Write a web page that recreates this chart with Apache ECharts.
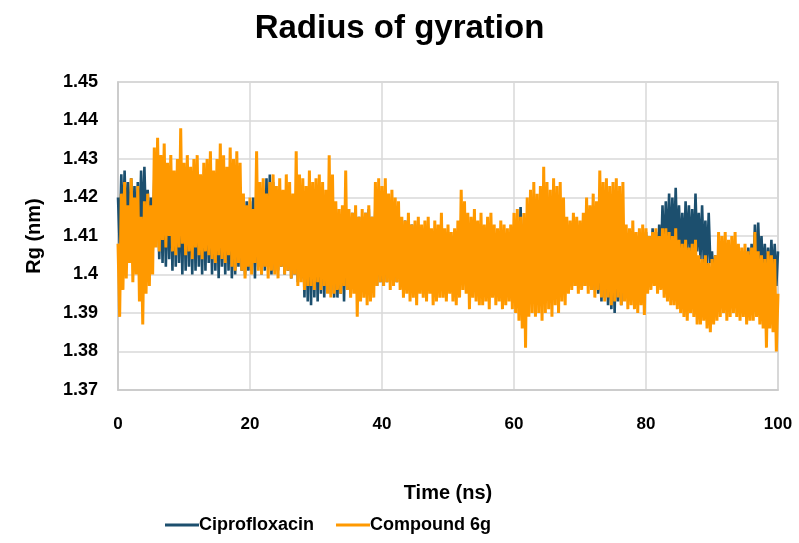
<!DOCTYPE html>
<html>
<head>
<meta charset="utf-8">
<script src="https://cdn.jsdelivr.net/npm/echarts@6/dist/echarts.min.js"></script>
<style>
html,body{margin:0;padding:0;background:#fff;}
#chart{width:799px;height:543px;}
</style>
</head>
<body>
<div id="chart"></div>
<script>
// Time step of the trajectories (ns) — samples every 0.25 ns from 0 to 100
const timeStep = 0.25;
const xTicks = [0, 20, 40, 60, 80, 100];
const yTicks = [1.37, 1.38, 1.39, 1.40, 1.41, 1.42, 1.43, 1.44, 1.45];
const seriesNames = ["Ciprofloxacin", "Compound 6g"];

// Rg (nm) of Ciprofloxacin (0.25 ns steps)
const ciprofloxacin = [
1.420,1.408,1.426,1.410, 1.427,1.411,1.424,1.409, 1.425,1.410,1.423,1.408, 1.424,1.409,1.427,1.410, 1.428,1.412,1.422,1.411,
1.420,1.405,1.425,1.409, 1.426,1.404,1.424,1.403, 1.425,1.402,1.423,1.404, 1.424,1.401,1.426,1.402, 1.425,1.403,1.422,1.400,
1.424,1.401,1.425,1.402, 1.423,1.400,1.424,1.401, 1.425,1.402,1.422,1.400, 1.424,1.401,1.423,1.403, 1.422,1.400,1.424,1.401,
1.423,1.399,1.425,1.402, 1.422,1.400,1.423,1.401, 1.424,1.399,1.421,1.400, 1.420,1.402,1.422,1.401, 1.418,1.400,1.419,1.401,
1.419,1.401,1.420,1.399, 1.421,1.402,1.420,1.400, 1.422,1.401,1.425,1.402, 1.426,1.400,1.424,1.401, 1.421,1.401,1.420,1.402,
1.420,1.400,1.421,1.401, 1.419,1.399,1.420,1.400, 1.421,1.398,1.420,1.399, 1.419,1.394,1.420,1.393, 1.418,1.392,1.419,1.394,
1.420,1.393,1.418,1.395, 1.419,1.394,1.417,1.396, 1.418,1.395,1.416,1.394, 1.417,1.394,1.415,1.395, 1.416,1.393,1.417,1.396,
1.415,1.395,1.416,1.397, 1.416,1.396,1.415,1.397, 1.415,1.398,1.416,1.397, 1.417,1.398,1.415,1.399, 1.418,1.397,1.417,1.398,
1.416,1.397,1.418,1.398, 1.417,1.399,1.416,1.398, 1.414,1.398,1.415,1.399, 1.413,1.397,1.414,1.398, 1.412,1.396,1.413,1.398,
1.413,1.397,1.412,1.396, 1.411,1.395,1.412,1.397, 1.412,1.396,1.411,1.395, 1.411,1.397,1.412,1.398, 1.412,1.396,1.410,1.397,
1.411,1.397,1.410,1.398, 1.410,1.395,1.411,1.396, 1.412,1.398,1.411,1.397, 1.411,1.397,1.412,1.398, 1.410,1.398,1.411,1.397,
1.411,1.397,1.410,1.398, 1.410,1.398,1.411,1.399, 1.409,1.397,1.410,1.398, 1.410,1.398,1.409,1.397, 1.411,1.397,1.410,1.398,
1.410,1.398,1.412,1.399, 1.4175,1.400,1.413,1.399, 1.412,1.399,1.411,1.398, 1.413,1.398,1.412,1.399, 1.414,1.399,1.413,1.398,
1.412,1.398,1.414,1.397, 1.413,1.397,1.412,1.398, 1.412,1.398,1.413,1.397, 1.411,1.398,1.412,1.399, 1.412,1.397,1.411,1.398,
1.411,1.398,1.412,1.397, 1.412,1.397,1.411,1.396, 1.411,1.396,1.412,1.395, 1.410,1.393,1.411,1.394, 1.412,1.392,1.410,1.391,
1.411,1.390,1.412,1.393, 1.410,1.392,1.411,1.394, 1.410,1.396,1.409,1.397, 1.411,1.397,1.410,1.396, 1.410,1.398,1.409,1.397,
1.411,1.399,1.410,1.398, 1.412,1.400,1.411,1.399, 1.413,1.402,1.418,1.404, 1.419,1.405,1.421,1.406, 1.420,1.407,1.4225,1.406,
1.418,1.405,1.416,1.404, 1.419,1.406,1.418,1.405, 1.417,1.404,1.421,1.406, 1.416,1.404,1.418,1.403, 1.414,1.402,1.416,1.403,
1.406,1.398,1.405,1.397, 1.406,1.398,1.405,1.399, 1.404,1.397,1.406,1.398, 1.405,1.398,1.404,1.397, 1.407,1.398,1.406,1.397,
1.406,1.397,1.407,1.398, 1.408,1.398,1.413,1.400, 1.4135,1.401,1.410,1.399, 1.408,1.398,1.407,1.397, 1.409,1.398,1.408,1.397,
1.406
];

// Rg (nm) of Compound 6g (0.25 ns steps)
const compound6g = [
1.408,1.389,1.421,1.396, 1.424,1.399,1.418,1.403, 1.425,1.398,1.420,1.400, 1.423,1.393,1.415,1.387, 1.419,1.395,1.421,1.397,
1.418,1.400,1.433,1.407, 1.4355,1.406,1.431,1.409, 1.434,1.407,1.429,1.410, 1.431,1.406,1.427,1.405, 1.430,1.407,1.438,1.408,
1.429,1.405,1.431,1.406, 1.428,1.404,1.430,1.407, 1.431,1.405,1.426,1.404, 1.429,1.406,1.430,1.405, 1.432,1.404,1.427,1.403,
1.430,1.405,1.434,1.404, 1.431,1.403,1.428,1.405, 1.433,1.402,1.430,1.401, 1.432,1.403,1.429,1.401, 1.421,1.399,1.418,1.402,
1.420,1.400,1.417,1.403, 1.432,1.401,1.424,1.400, 1.425,1.402,1.421,1.399, 1.424,1.401,1.426,1.400, 1.423,1.399,1.425,1.402,
1.422,1.400,1.426,1.401, 1.424,1.399,1.421,1.400, 1.432,1.397,1.426,1.398, 1.425,1.396,1.423,1.397, 1.427,1.397,1.424,1.396,
1.425,1.398,1.426,1.396, 1.424,1.397,1.422,1.395, 1.431,1.394,1.426,1.395, 1.419,1.396,1.417,1.395, 1.418,1.397,1.427,1.396,
1.417,1.394,1.416,1.395, 1.418,1.389,1.415,1.393, 1.417,1.394,1.416,1.392, 1.418,1.393,1.415,1.394, 1.424,1.397,1.425,1.398,
1.423,1.397,1.425,1.398, 1.421,1.396,1.422,1.397, 1.420,1.398,1.419,1.396, 1.415,1.394,1.414,1.395, 1.416,1.393,1.413,1.394,
1.414,1.392,1.415,1.395, 1.413,1.394,1.414,1.393, 1.415,1.395,1.412,1.392, 1.414,1.393,1.413,1.394, 1.416,1.394,1.412,1.393,
1.413,1.395,1.411,1.393, 1.412,1.392,1.414,1.394, 1.422,1.396,1.419,1.395, 1.416,1.391,1.415,1.394, 1.417,1.393,1.414,1.392,
1.416,1.392,1.413,1.393, 1.415,1.391,1.416,1.394, 1.413,1.392,1.412,1.393, 1.414,1.391,1.413,1.392, 1.412,1.393,1.413,1.391,
1.416,1.390,1.417,1.388, 1.415,1.386,1.416,1.381, 1.420,1.389,1.422,1.390, 1.424,1.389,1.421,1.390, 1.423,1.388,1.428,1.390,
1.424,1.391,1.422,1.389, 1.425,1.392,1.423,1.390, 1.424,1.393,1.420,1.392, 1.415,1.395,1.414,1.396, 1.416,1.397,1.415,1.395,
1.414,1.396,1.416,1.397, 1.420,1.395,1.418,1.396, 1.421,1.394,1.419,1.396, 1.427,1.394,1.424,1.393, 1.425,1.394,1.423,1.392,
1.424,1.393,1.425,1.394, 1.423,1.392,1.424,1.393, 1.413,1.391,1.412,1.392, 1.414,1.391,1.411,1.390, 1.412,1.392,1.413,1.3895,
1.412,1.395,1.410,1.396, 1.411,1.397,1.412,1.395, 1.410,1.396,1.412,1.394, 1.412,1.393,1.411,1.392, 1.410,1.392,1.412,1.391,
1.409,1.390,1.408,1.389, 1.409,1.388,1.407,1.390, 1.408,1.389,1.409,1.387, 1.405,1.387,1.404,1.388, 1.405,1.386,1.403,1.385,
1.404,1.387,1.405,1.388, 1.411,1.389,1.410,1.390, 1.411,1.388,1.409,1.389, 1.410,1.390,1.411,1.389, 1.408,1.388,1.407,1.389,
1.408,1.387,1.406,1.388, 1.407,1.388,1.411,1.389, 1.406,1.387,1.405,1.386, 1.404,1.381,1.406,1.386, 1.405,1.385,1.404,1.380,
1.395
];

function pairs(values) {
  return values.map((v, i) => [i * timeStep, v]);
}

const chart = echarts.init(document.getElementById('chart'), null, {renderer: 'canvas'});
const labelFont = "'Liberation Sans', Arial, sans-serif";

chart.setOption({
  animation: false,
  backgroundColor: '#ffffff',
  title: {
    text: 'Radius of gyration',
    left: 'center',
    top: 7,
    textStyle: {fontFamily: labelFont, fontWeight: 'bold', fontSize: 33, color: '#000'}
  },
  legend: {
    bottom: 4,
    left: 160,
    itemWidth: 34,
    itemHeight: 3,
    itemGap: 22,
    icon: 'rect',
    textStyle: {fontFamily: labelFont, fontWeight: 'bold', fontSize: 18, color: '#000', padding: [0,0,0,-5]},
    data: seriesNames
  },
  grid: {
    left: 118, right: 21, top: 82, bottom: 153,
    show: true, borderColor: '#c8c8c8', borderWidth: 1.5
  },
  xAxis: {
    type: 'value', min: xTicks[0], max: xTicks[xTicks.length - 1], interval: 20,
    name: 'Time (ns)', nameLocation: 'middle', nameGap: 93,
    nameTextStyle: {fontFamily: labelFont, fontWeight: 'bold', fontSize: 20, color: '#000'},
    axisLine: {show: true, lineStyle: {color: '#c8c8c8', width: 1.5}},
    axisTick: {show: false},
    axisLabel: {margin: 26, fontFamily: labelFont, fontWeight: 'bold', fontSize: 17, color: '#000'},
    splitLine: {show: true, lineStyle: {color: '#d9d9d9', width: 1.5}}
  },
  yAxis: {
    type: 'value', min: yTicks[0], max: yTicks[yTicks.length - 1], interval: 0.01,
    name: 'Rg (nm)', nameLocation: 'middle', nameGap: 74,
    nameTextStyle: {fontFamily: labelFont, fontWeight: 'bold', fontSize: 20, color: '#000'},
    axisLine: {show: true, lineStyle: {color: '#c8c8c8', width: 1.5}},
    axisTick: {show: false},
    axisLabel: {margin: 20, fontFamily: labelFont, fontWeight: 'bold', fontSize: 18, color: '#000',
      formatter: v => String(+v.toFixed(2))},
    splitLine: {show: true, lineStyle: {color: '#d9d9d9', width: 1.5}}
  },
  series: [
    {name: seriesNames[0], type: 'line', data: pairs(ciprofloxacin), showSymbol: false, symbol: 'none',
     color: '#1c4f6e', lineStyle: {width: 2.6, color: '#1c4f6e', join: 'bevel'}, z: 2},
    {name: seriesNames[1], type: 'line', data: pairs(compound6g), showSymbol: false, symbol: 'none',
     color: '#ff9900', lineStyle: {width: 3, color: '#ff9900', join: 'bevel'}, z: 3}
  ]
});
</script>
</body>
</html>
